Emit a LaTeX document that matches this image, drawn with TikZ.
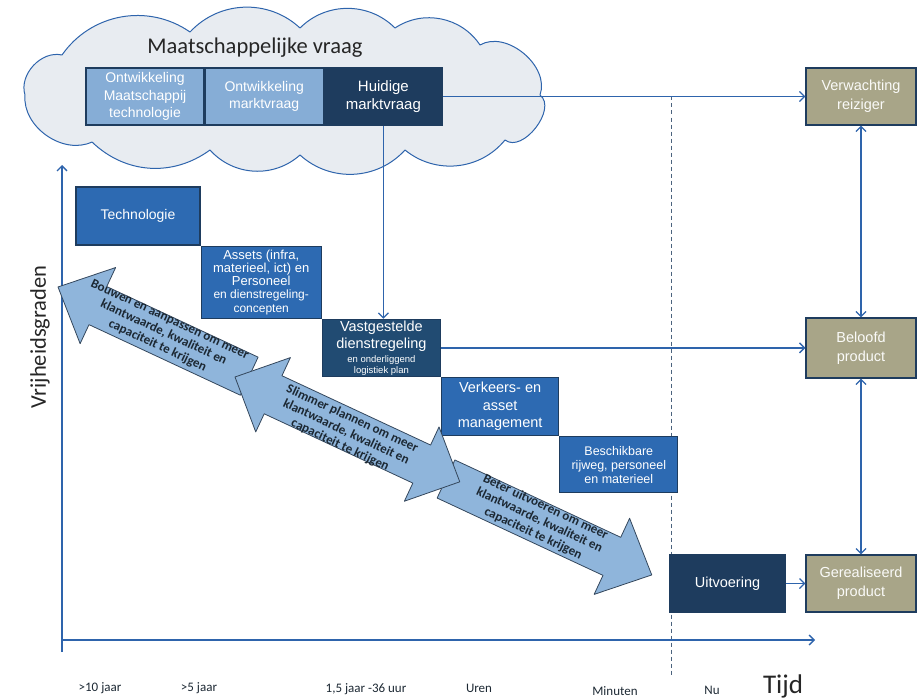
\documentclass[tikz,border=0pt]{standalone}
\usepackage{fontspec}
\setmainfont{Liberation Sans}
\newfontfamily\calibri{Carlito}
\usetikzlibrary{positioning,arrows.meta}
\definecolor{lijnblauw}{HTML}{2E64AC}
\definecolor{donker}{HTML}{1E3C5E}
\definecolor{vastblauw}{HTML}{214B72}
\definecolor{middenblauw}{HTML}{2D6AB2}
\definecolor{lichtblauw}{HTML}{86ADD6}
\definecolor{kaki}{HTML}{A8A588}
\definecolor{wolkgrijs}{HTML}{E8ECF1}
\definecolor{pijlblauw}{HTML}{8FB5DB}
\definecolor{pijlrand}{HTML}{34475C}
\definecolor{tekstdonker}{HTML}{1C2833}
\begin{document}
\begin{tikzpicture}[x=1pt,y=-1pt,>={Straight Barb[length=5pt,width=10pt]},
  box/.style={draw=donker, line width=1.2pt, text=white, align=center, inner sep=0pt, font=\fontsize{14}{17.5}\selectfont},
  lichtbox/.style={box, fill=lichtblauw, minimum width=118pt, minimum height=57pt},
  donkerbox/.style={box, fill=donker},
  blauwbox/.style={box, fill=middenblauw},
  kakibox/.style={box, fill=kaki, text=white!94!kaki, minimum width=110pt, font=\fontsize{14.5}{19}\selectfont},
  lijn/.style={draw=lijnblauw, line width=1.3pt},
  streep/.style={draw=donker!80, line width=0.8pt, dash pattern=on 4pt off 3pt},
  wolkrand/.style={draw=lijnblauw, fill=wolkgrijs, line width=1pt, line join=round},
  pijl/.style={fill=pijlblauw, draw=pijlrand, line width=0.8pt, line join=round},
  pijltekst/.style={transform shape, align=center, inner sep=0pt, text=tekstdonker, font=\calibri\bfseries\fontsize{13}{14.5}\selectfont},
  tijdlabel/.style={font=\calibri\fontsize{13}{14}\selectfont, text=tekstdonker, inner sep=0pt},
  groot/.style={font=\calibri\fontsize{22.5}{24}\selectfont, text=black!85, inner sep=0pt}]
\useasboundingbox (0,0) rectangle (917,698);

\draw[wolkrand] (25,95) to[bend left=60] (62,55) to[bend left=45] (190,32) to[bend left=45] (300,28)
  to[bend left=45] (395,28) to[bend left=45] (480,45) to[bend left=70] (540,95) to[bend left=90] (505,140)
  to[bend left=45] (405,150) to[bend left=45] (300,155) to[bend left=45] (210,150) to[bend left=40] (92,142)
  to[bend left=60] cycle;
\node[groot] (maatschappij) at (255,48) {Maatschappelijke vraag};

\node[lichtbox] (ontwtech) at (145,96.5) {Ontwikkeling\\Maatschappij\\technologie};
\node[lichtbox, right=0pt of ontwtech] (ontwmarkt) {Ontwikkeling\\marktvraag};
\node[donkerbox, minimum width=118pt, minimum height=57pt, right=0pt of ontwmarkt, font=\fontsize{15}{18}\selectfont] (huidig) {Huidige\\marktvraag};

\coordinate (nutop) at (671,96.5);
\coordinate (nubodem) at (671,676);
\draw[streep] (nutop) -- (nubodem);

\node[blauwbox, minimum width=124pt, minimum height=58pt] (tech) at (138,216) {Technologie};
\node[blauwbox, minimum width=120pt, minimum height=72pt, below right=0pt and 0pt of tech, font=\fontsize{13}{13.3}\selectfont] (assets) {Assets (infra,\\materieel, ict) en\\Personeel\\{\fontsize{12}{13.3}\selectfont en dienstregeling-}\\{\fontsize{12}{13.3}\selectfont concepten}};
\node[box, fill=vastblauw, minimum width=118pt, minimum height=57pt, below right=0pt and 0pt of assets, font=\fontsize{14.5}{17}\selectfont] (vast) {Vastgestelde\\dienstregeling\\[-3pt]{\fontsize{9.5}{11}\selectfont en onderliggend}\\[-6pt]{\fontsize{9.5}{11}\selectfont logistiek plan}};
\node[blauwbox, minimum width=117pt, minimum height=58pt, below right=0pt and 0pt of vast, font=\fontsize{14.5}{17.5}\selectfont] (verkeer) {Verkeers- en\\asset\\management};
\node[blauwbox, minimum width=118pt, minimum height=56pt, below right=0pt and 0pt of verkeer, font=\fontsize{12.5}{14}\selectfont] (beschikbaar) {Beschikbare\\rijweg, personeel\\en materieel};
\node[donkerbox, minimum width=115pt, minimum height=57pt, font=\fontsize{14.5}{17}\selectfont] (uitvoering) at (727.5,583.5) {Uitvoering};

\node[kakibox, minimum height=57pt] (verwachting) at (861,96.5) {Verwachting\\reiziger};
\node[kakibox, minimum height=60pt] (beloofd) at (861,348) {Beloofd\\product};
\node[kakibox, minimum height=57pt] (gerealiseerd) at (861,583.5) {Gerealiseerd\\product};

\draw[lijn, ->] (huidig.east) -- (verwachting.west);
\draw[lijn, ->] (huidig.south) -- (huidig.south |- vast.north);
\draw[lijn, ->] (vast.east) -- (vast.east -| beloofd.west);
\draw[lijn, ->] (uitvoering.east) -- (gerealiseerd.west);
\draw[lijn, <->] (verwachting.south) -- (beloofd.north);
\draw[lijn, <->] (beloofd.south) -- (gerealiseerd.north);

\coordinate (oorsprong) at (62,640);
\coordinate (ybodem) at (62,652);
\coordinate (ytop) at (62,165);
\coordinate (xeind) at (815,640);
\draw[lijn, ->] (ybodem) -- (ytop);
\draw[lijn, ->] (oorsprong) -- (xeind);

\begin{scope}[shift={(58,287)}, rotate=-25]
  \filldraw[pijl] (0,0) -- (44,-42) -- (44,-21) -- (211,-21) -- (211,21) -- (44,21) -- (44,42) -- cycle;
  \node[pijltekst] (bouwen) at (115,-3) {Bouwen en aanpassen om meer\\klantwaarde, kwaliteit en\\capaciteit te krijgen};
\end{scope}
\begin{scope}[shift={(446,479)}, rotate=-25]
  \filldraw[pijl] (0,-21) -- (183,-21) -- (183,-42) -- (227,0) -- (183,42) -- (183,21) -- (0,21) -- cycle;
  \node[pijltekst] (beter) at (102,-2) {Beter uitvoeren om meer\\klantwaarde, kwaliteit en\\capaciteit te krijgen};
\end{scope}
\begin{scope}[shift={(235,377)}, rotate=-25]
  \filldraw[pijl] (0,0) -- (42,-41) -- (42,-21) -- (206,-21) -- (206,-41) -- (248,0) -- (206,41) -- (206,21) -- (42,21) -- (42,41) -- cycle;
  \node[pijltekst] (slimmer) at (124,3) {Slimmer plannen om meer\\klantwaarde, kwaliteit en\\capaciteit te krijgen};
\end{scope}

\node[groot, rotate=90] (vrijheid) at (40,337) {Vrijheidsgraden};
\node[groot, font=\calibri\fontsize{27}{28}\selectfont] (tijd) at (783,686) {Tijd};
\node[tijdlabel] (tienjaar) at (100,688) {>10 jaar};
\node[tijdlabel] (vijfjaar) at (199,688) {>5 jaar};
\node[tijdlabel] (anderhalf) at (366,689) {1,5 jaar -36 uur};
\node[tijdlabel] (uren) at (479,688) {Uren};
\node[tijdlabel] (minuten) at (615,691) {Minuten};
\node[tijdlabel] (nu) at (712,690) {Nu};
\end{tikzpicture}
\end{document}
